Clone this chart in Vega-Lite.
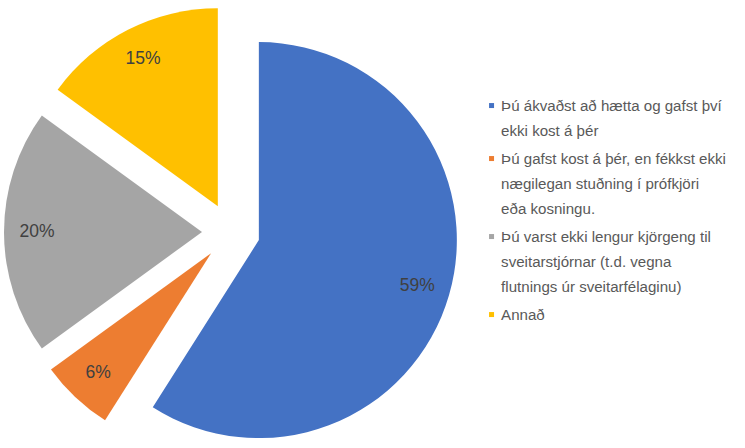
{
  "$schema": "https://vega.github.io/schema/vega-lite/v6.json",
  "width": 462,
  "height": 448,
  "padding": {"left": 0, "top": 8, "right": 0, "bottom": 0},
  "background": "white",
  "view": {"stroke": null},
  "config": {"style": {"guide-label": {"lineHeight": 25}}},
  "data": {
    "values": [
      {"category": "Þú ákvaðst að hætta og gafst því ekki kost á þér", "share": 0.59},
      {"category": "Þú gafst kost á þér, en fékkst ekki nægilegan stuðning í prófkjöri eða kosningu.", "share": 0.06},
      {"category": "Þú varst ekki lengur kjörgeng til sveitarstjórnar (t.d. vegna flutnings úr sveitarfélaginu)", "share": 0.20},
      {"category": "Annað", "share": 0.15}
    ]
  },
  "transform": [{"window": [{"op": "row_number", "as": "idx"}]}],
  "encoding": {
    "theta": {"field": "share", "type": "quantitative", "stack": true},
    "order": {"field": "idx", "type": "quantitative"}
  },
  "layer": [
    {
      "mark": {
        "type": "arc",
        "outerRadius": 198,
        "xOffset": {"expr": "29*sin(PI*(datum.share_start+datum.share_end))"},
        "yOffset": {"expr": "-29*cos(PI*(datum.share_start+datum.share_end))"}
      },
      "encoding": {
        "color": {
          "field": "category",
          "type": "nominal",
          "scale": {
            "domain": [
              "Þú ákvaðst að hætta og gafst því ekki kost á þér",
              "Þú gafst kost á þér, en fékkst ekki nægilegan stuðning í prófkjöri eða kosningu.",
              "Þú varst ekki lengur kjörgeng til sveitarstjórnar (t.d. vegna flutnings úr sveitarfélaginu)",
              "Annað"
            ],
            "range": ["#4472C4", "#ED7D31", "#A5A5A5", "#FFC000"]
          },
          "legend": {
            "orient": "none",
            "legendX": 484,
            "legendY": 90,
            "title": null,
            "symbolType": "square",
            "symbolSize": 25,
            "symbolStrokeWidth": 0,
            "labelFont": "Liberation Sans",
            "labelFontSize": 15.1,
            "labelColor": "#595959",
            "labelLimit": 300,
            "labelOffset": 2,
            "rowPadding": 12,
            "labelExpr": "datum.label == 'Þú ákvaðst að hætta og gafst því ekki kost á þér' ? ['Þú ákvaðst að hætta og gafst því', 'ekki kost á þér'] : datum.label == 'Þú gafst kost á þér, en fékkst ekki nægilegan stuðning í prófkjöri eða kosningu.' ? ['Þú gafst kost á þér, en fékkst ekki', 'nægilegan stuðning í prófkjöri', 'eða kosningu.'] : datum.label == 'Þú varst ekki lengur kjörgeng til sveitarstjórnar (t.d. vegna flutnings úr sveitarfélaginu)' ? ['Þú varst ekki lengur kjörgeng til', 'sveitarstjórnar (t.d. vegna', 'flutnings úr sveitarfélaginu)'] : datum.label"
          }
        }
      }
    },
    {
      "mark": {
        "type": "text",
        "radius": 165,
        "font": "Liberation Sans",
        "fontSize": 17.5,
        "color": "#404040",
        "xOffset": {"expr": "29*sin(PI*(datum.share_start+datum.share_end))"},
        "yOffset": {"expr": "-29*cos(PI*(datum.share_start+datum.share_end))"}
      },
      "encoding": {
        "detail": {"field": "category", "type": "nominal"},
        "text": {"field": "share", "type": "quantitative", "format": ".0%"}
      }
    }
  ]
}
